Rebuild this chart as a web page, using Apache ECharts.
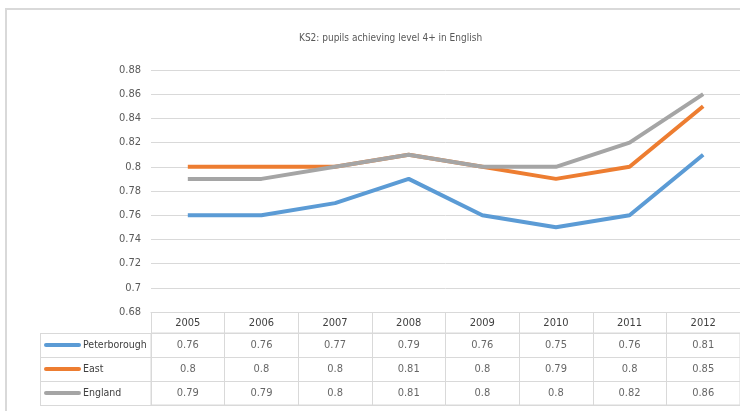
<!DOCTYPE html>
<html>
<head>
<meta charset="utf-8">
<title>KS2 English</title>
<script src="https://cdn.jsdelivr.net/npm/echarts@6/dist/echarts.min.js"></script>
<style>
  html, body { margin: 0; padding: 0; background: #fff; }
  #chart { width: 740px; height: 411px; }
</style>
</head>
<body>
<div id="chart"></div>
<script>
// data
const years = ['2005', '2006', '2007', '2008', '2009', '2010', '2011', '2012']
const seriesNames = ['Peterborough', 'East', 'England']
const peterborough = [0.76, 0.76, 0.77, 0.79, 0.76, 0.75, 0.76, 0.81]
const east = [0.8, 0.8, 0.8, 0.81, 0.8, 0.79, 0.8, 0.85]
const england = [0.79, 0.79, 0.8, 0.81, 0.8, 0.8, 0.82, 0.86]
const yTicks = { min: 0.68, max: 0.88, interval: 0.02 }

const colors = ['#5B9BD5', '#ED7D31', '#A5A5A5']
const allValues = [peterborough, east, england]
const font = "'Liberation Sans Narrow', 'DejaVu Sans Condensed', 'Liberation Sans', sans-serif"
const gridColor = '#d9d9d9'

// table cells: [yearIndex, rowName, value]
const tableSeries = seriesNames.map((name, i) => ({
  type: 'scatter',
  xAxisIndex: 1,
  yAxisIndex: 1,
  symbolSize: 0,
  silent: true,
  data: allValues[i].map((v, j) => [j, name, v]),
  label: {
    show: true,
    position: 'inside',
    color: '#404040',
    fontSize: 11,
    fontFamily: font,
    formatter: p => String(p.value[2])
  }
}))

const lineSeries = seriesNames.map((name, i) => ({
  name: name,
  type: 'line',
  data: allValues[i],
  showSymbol: false,
  symbol: 'none',
  lineStyle: { width: 4, color: colors[i] },
  itemStyle: { color: colors[i] }
}))

const swatches = {}
colors.forEach((c, i) => {
  swatches['s' + i] = { width: 37, height: 4, backgroundColor: c, borderRadius: 2 }
})

const option = {
  animation: false,
  color: colors,
  title: {
    text: 'KS2: pupils achieving level 4+ in English',
    left: 294,
    top: 28,
    textStyle: { fontSize: 10, fontWeight: 'normal', color: '#595959', fontFamily: font }
  },
  graphic: [
    {
      type: 'rect',
      shape: { x: 6, y: 9, width: 800, height: 500 },
      style: { fill: 'none', stroke: gridColor, lineWidth: 2 },
      silent: true
    },
    {
      type: 'line',
      shape: { x1: 40.5, y1: 333, x2: 40.5, y2: 405 },
      style: { stroke: gridColor, lineWidth: 1 },
      silent: true
    }
  ],
  grid: [
    { left: 151, top: 70, width: 597, height: 242 },
    { left: 151, top: 333, width: 597, height: 72, show: true, borderColor: gridColor, borderWidth: 1 }
  ],
  xAxis: [
    {
      gridIndex: 0,
      type: 'category',
      data: years,
      boundaryGap: true,
      axisLine: { lineStyle: { color: gridColor } },
      axisTick: { show: true, length: 21, lineStyle: { color: gridColor } },
      axisLabel: { margin: 6, color: '#404040', fontSize: 11, fontFamily: font },
      splitLine: { show: false }
    },
    {
      gridIndex: 1,
      type: 'category',
      data: years,
      boundaryGap: true,
      axisLine: { show: false },
      axisTick: { show: false },
      axisLabel: { show: false },
      splitLine: { show: true, lineStyle: { color: gridColor } }
    }
  ],
  yAxis: [
    {
      gridIndex: 0,
      type: 'value',
      min: yTicks.min,
      max: yTicks.max,
      interval: yTicks.interval,
      axisLine: { show: false },
      axisTick: { show: false },
      axisLabel: { margin: 10, color: '#595959', fontSize: 11, fontFamily: font },
      splitLine: { lineStyle: { color: gridColor } }
    },
    {
      gridIndex: 1,
      type: 'category',
      data: seriesNames,
      inverse: true,
      boundaryGap: true,
      axisLine: { show: false },
      axisTick: { show: true, length: 111, lineStyle: { color: gridColor } },
      splitLine: { show: true, lineStyle: { color: gridColor } },
      axisLabel: {
        align: 'left',
        margin: 107,
        formatter: (value, index) => '{s' + index + '|}{n|' + value + '}',
        rich: Object.assign({}, swatches, {
          n: { color: '#404040', fontSize: 10.5, fontFamily: font, padding: [0, 0, 0, 2] }
        })
      }
    }
  ],
  series: lineSeries.concat(tableSeries)
}

const chart = echarts.init(document.getElementById('chart'))
chart.setOption(option)
</script>
</body>
</html>
